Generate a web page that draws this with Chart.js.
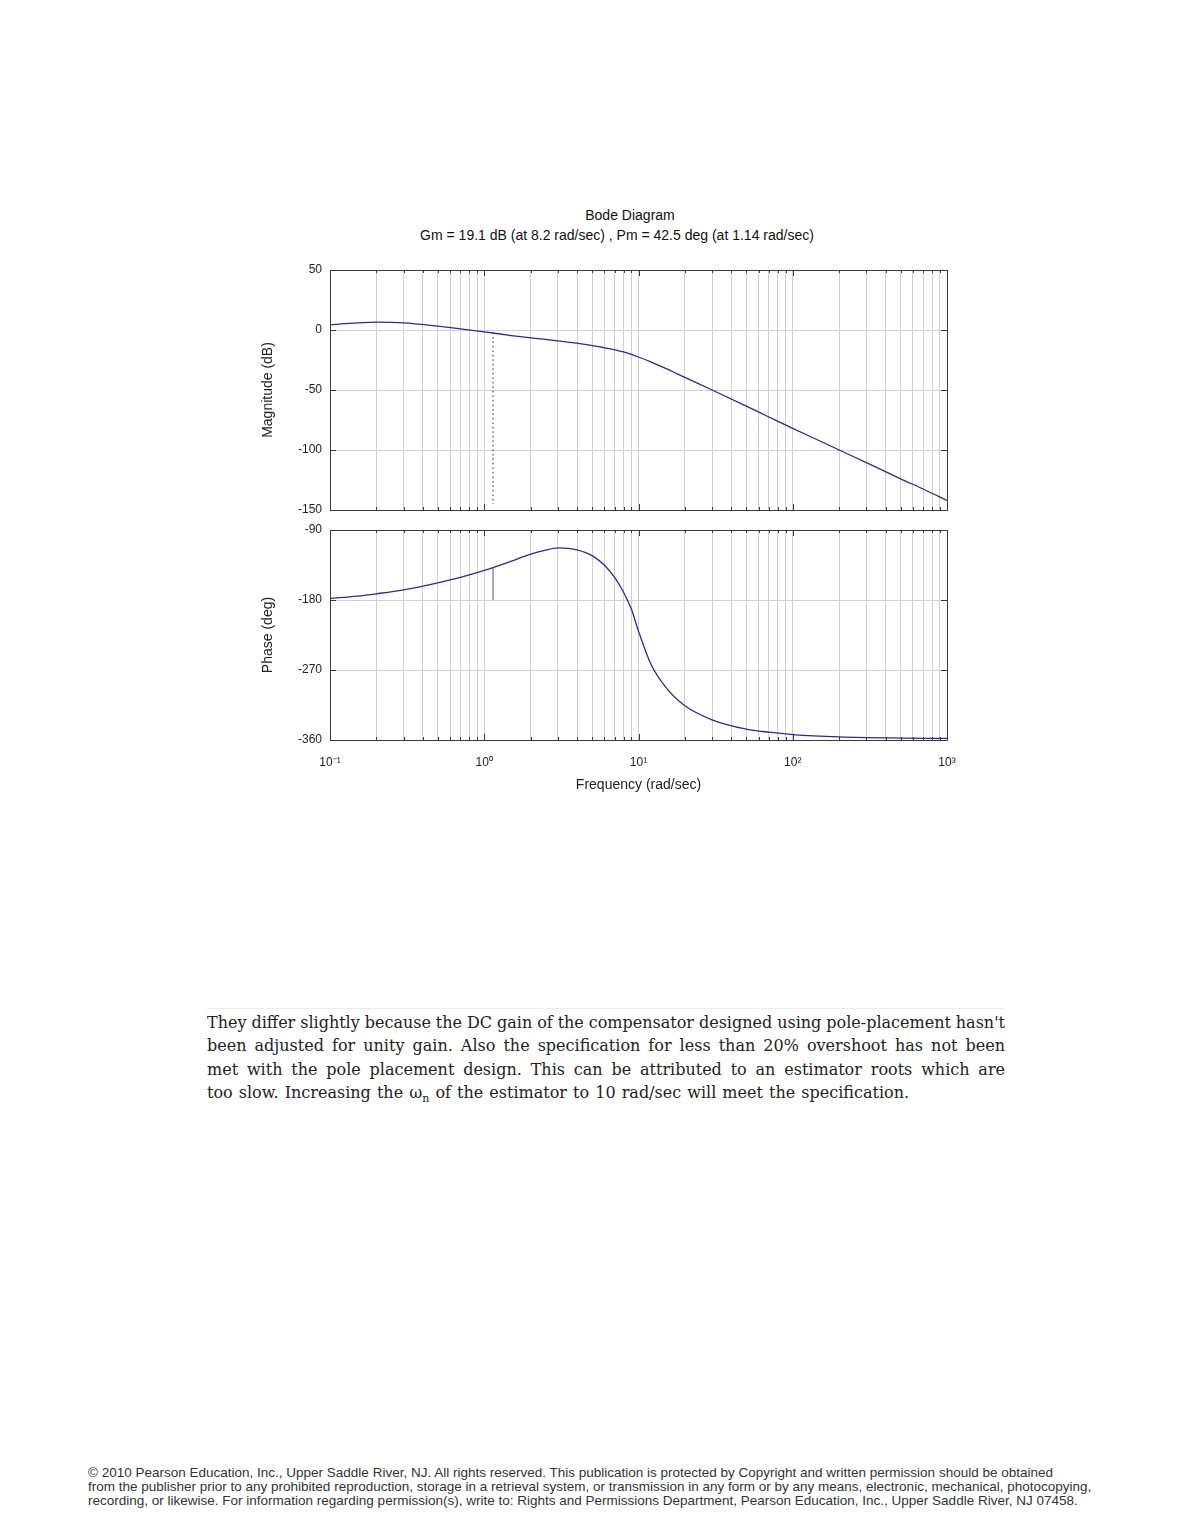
<!DOCTYPE html>
<html>
<head>
<meta charset="utf-8">
<script src="https://cdn.jsdelivr.net/npm/chart.js@4.4.1/dist/chart.umd.min.js"></script>
<style>
  body { margin: 0; background: #fff; width: 1180px; height: 1527px; position: relative; overflow: hidden; }
  .abs { position: absolute; }
  .ttl { font-family: "Liberation Sans", Arial, sans-serif; font-size: 14px; color: #111; white-space: nowrap; transform: translateX(-50%); }
  #para { left: 207px; top: 1008px; width: 798px; font-family: "DejaVu Serif", "Liberation Serif", serif; font-size: 16px; word-spacing: -1px; line-height: 23.4px; color: #222; border-top: 1px solid #ececec; padding-top: 2px; }
  #para div { text-align: justify; text-align-last: justify; white-space: nowrap; }
  #para div.last { text-align-last: left; word-spacing: 1px; }
  #foot { left: 88px; top: 1466px; font-family: "Liberation Sans", Arial, sans-serif; font-size: 13.5px; line-height: 14px; color: #333; white-space: nowrap; }
</style>
</head>
<body>
<div class="abs ttl" style="left:630px; top:207px;">Bode Diagram</div>
<div class="abs ttl" style="left:617px; top:227px;">Gm = 19.1 dB (at 8.2 rad/sec) ,  Pm = 42.5 deg (at 1.14 rad/sec)</div>

<canvas id="mag" class="abs" width="720" height="260" style="left:240px; top:260px;"></canvas>
<canvas id="phase" class="abs" width="720" height="290" style="left:240px; top:520px;"></canvas>

<div id="para" class="abs">
  <div>They differ slightly because the DC gain of the compensator designed using pole-placement hasn't</div>
  <div>been adjusted for unity gain. Also the specification for less than 20% overshoot has not been</div>
  <div>met with the pole placement design. This can be attributed to an estimator roots which are</div>
  <div class="last">too slow. Increasing the ω<sub style="font-size:11px">n</sub> of the estimator to 10 rad/sec will meet the specification.</div>
</div>

<div id="foot" class="abs">
  <div>© 2010 Pearson Education, Inc., Upper Saddle River, NJ. All rights reserved. This publication is protected by Copyright and written permission should be obtained</div>
  <div>from the publisher prior to any prohibited reproduction, storage in a retrieval system, or transmission in any form or by any means, electronic, mechanical, photocopying,</div>
  <div>recording, or likewise. For information regarding permission(s), write to: Rights and Permissions Department, Pearson Education, Inc., Upper Saddle River, NJ 07458.</div>
</div>

<script>
// frequency response (rad/sec, dB, deg)
const magFreq = [0.1, 0.15, 0.2, 0.3, 0.5, 0.7, 1, 1.5, 2, 3, 4, 5, 6, 7, 8, 10, 12, 15, 20, 30, 50, 70, 100, 150, 200, 300, 500, 700, 1000];
const magDb = [4.3, 5.9, 6.5, 6.0, 3.2, 1.0, -1.5, -4.6, -6.5, -9.0, -11.0, -13.0, -14.8, -16.5, -18.3, -22.5, -26.5, -32.0, -39.5, -50.0, -63.5, -72.5, -82.0, -92.5, -100.0, -110.5, -124.0, -132.5, -142.0];

const phaseFreq = [0.1, 0.15, 0.2, 0.3, 0.5, 0.7, 1, 1.5, 2, 2.5, 3, 3.5, 4, 5, 6, 7, 8, 9, 10, 12, 15, 20, 30, 50, 70, 100, 200, 500, 1000];
const phaseDeg = [-178, -175, -172, -167, -158, -151, -142, -130, -121, -116, -113, -113.5, -115.5, -123, -135, -151, -170, -192, -220, -262, -292, -316, -334, -346, -350, -353, -356, -357.5, -358];

// margin markers
const wc = 1.14;
const gmLineDb = [-2, -145];
const pmLineDeg = [-180, -139];

const freqLabels = { 0.1: '10⁻¹', 1: '10⁰', 10: '10¹', 100: '10²', 1000: '10³' };
const magTicks = [-150, -100, -50, 0, 50];
const phaseTicks = [-360, -270, -180, -90];

const decades = [0.1, 1, 10, 100];
const freqGrid = [];
decades.forEach(d => { for (let m = 1; m < 10; m++) freqGrid.push(+(d * m).toPrecision(6)); });
freqGrid.push(1000);

const lineBlue = '#2a2a9e';
const gridGray = '#d0d0d0';
const tickFont = { family: 'Liberation Sans, Arial, sans-serif', size: 12 };
const titleFont = { family: 'Liberation Sans, Arial, sans-serif', size: 14 };

function isMajor(v) {
  return Object.prototype.hasOwnProperty.call(freqLabels, String(v));
}

// box around plot area, ticks pointing inwards
const boxPlugin = {
  id: 'box',
  afterDraw(chart) {
    const { ctx, chartArea: a, scales } = chart;
    ctx.save();
    ctx.strokeStyle = '#3a3a3a';
    ctx.lineWidth = 1;
    ctx.beginPath();
    scales.x.ticks.forEach(t => {
      const px = Math.round(scales.x.getPixelForValue(t.value)) + 0.5;
      const len = isMajor(t.value) ? 6 : 3;
      ctx.moveTo(px, a.top); ctx.lineTo(px, a.top + len);
      ctx.moveTo(px, a.bottom); ctx.lineTo(px, a.bottom - len);
    });
    scales.y.ticks.forEach(t => {
      const py = Math.round(scales.y.getPixelForValue(t.value)) + 0.5;
      ctx.moveTo(a.left, py); ctx.lineTo(a.left + 6, py);
      ctx.moveTo(a.right, py); ctx.lineTo(a.right - 6, py);
    });
    ctx.stroke();
    ctx.strokeRect(Math.round(a.left) + 0.5, Math.round(a.top) + 0.5, Math.round(a.right - a.left), Math.round(a.bottom - a.top));
    ctx.restore();
  }
};

function xScale(showLabels) {
  return {
    type: 'logarithmic',
    min: 0.1,
    max: 1000,
    afterBuildTicks: s => { s.ticks = freqGrid.map(v => ({ value: v })); },
    afterFit: s => {
      s.height = showLabels ? 54 : 0;
      s.paddingLeft = 0;
      s.paddingRight = 0;
    },
    grid: { color: gridGray, lineWidth: 1, drawTicks: false },
    border: { display: false },
    ticks: {
      display: showLabels,
      autoSkip: false,
      maxRotation: 0,
      padding: 15,
      color: '#222',
      font: tickFont,
      callback: v => freqLabels[v] || ''
    },
    title: {
      display: showLabels,
      text: 'Frequency (rad/sec)',
      color: '#222',
      font: titleFont,
      padding: { top: 0, bottom: 0 }
    }
  };
}

function yScale(ticks, label) {
  return {
    min: ticks[0],
    max: ticks[ticks.length - 1],
    afterBuildTicks: s => { s.ticks = ticks.map(v => ({ value: v })); },
    afterFit: s => {
      s.width = 90;
      s.paddingTop = 0;
      s.paddingBottom = 0;
    },
    grid: { color: gridGray, lineWidth: 1, drawTicks: false },
    border: { display: false },
    ticks: { padding: 8, color: '#222', font: tickFont },
    title: {
      display: true,
      text: label,
      color: '#222',
      font: titleFont,
      padding: { top: 20, bottom: 0 }
    }
  };
}

function curve(freq, vals) {
  return {
    data: freq.map((f, i) => ({ x: f, y: vals[i] })),
    borderColor: lineBlue,
    borderWidth: 1.3,
    pointRadius: 0,
    cubicInterpolationMode: 'monotone',
    fill: false
  };
}

new Chart(document.getElementById('mag').getContext('2d'), {
  type: 'line',
  data: {
    datasets: [
      curve(magFreq, magDb),
      {
        data: gmLineDb.map(v => ({ x: wc, y: v })),
        borderColor: '#222',
        borderWidth: 1,
        borderDash: [1.5, 3],
        pointRadius: 0
      }
    ]
  },
  options: {
    responsive: false,
    animation: false,
    devicePixelRatio: 1,
    layout: { padding: { top: 10, right: 13, bottom: 10, left: 0 } },
    plugins: { legend: { display: false }, tooltip: { enabled: false } },
    scales: { x: xScale(false), y: yScale(magTicks, 'Magnitude (dB)') }
  },
  plugins: [boxPlugin]
});

new Chart(document.getElementById('phase').getContext('2d'), {
  type: 'line',
  data: {
    datasets: [
      curve(phaseFreq, phaseDeg),
      {
        data: pmLineDeg.map(v => ({ x: wc, y: v })),
        borderColor: '#555',
        borderWidth: 1,
        pointRadius: 0
      }
    ]
  },
  options: {
    responsive: false,
    animation: false,
    devicePixelRatio: 1,
    layout: { padding: { top: 10, right: 13, bottom: 16, left: 0 } },
    plugins: { legend: { display: false }, tooltip: { enabled: false } },
    scales: { x: xScale(true), y: yScale(phaseTicks, 'Phase (deg)') }
  },
  plugins: [boxPlugin]
});
</script>
</body>
</html>
